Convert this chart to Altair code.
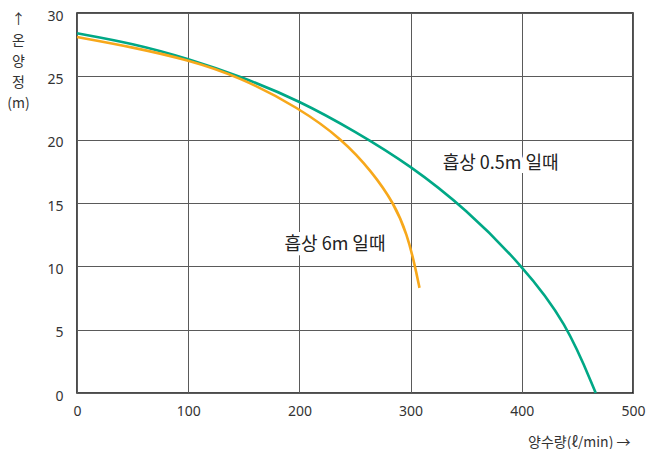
import altair as alt
import pandas as pd

# Curve: suction 0.5 m
flow_a = [0, 50, 100, 150, 200, 250, 300, 350, 400, 440, 466.5]
head_a = [28.4, 27.6, 26.4, 24.9, 23.07, 20.67, 17.95, 14.5, 10.1, 5.6, 0.0]
# Curve: suction 6 m
flow_b = [0, 50, 100, 145, 200, 239, 265, 285, 297, 304, 308]
head_b = [28.1, 27.3, 26.3, 25.0, 22.5, 20.0, 17.5, 15.0, 12.5, 10.0, 8.3]

label_text = ["흡상 0.5m 일때", "흡상 6m 일때"]
label_x = [381, 232]
label_y = [18.1, 11.65]

x_ticks = [0, 100, 200, 300, 400, 500]
y_ticks = [0, 5, 10, 15, 20, 25, 30]

FONT = "Noto Sans CJK KR"
NUM_FONT = "Noto Sans"

df = pd.concat([
    pd.DataFrame({"flow": flow_a, "head": head_a, "series": "a"}),
    pd.DataFrame({"flow": flow_b, "head": head_b, "series": "b"}),
])
lab = pd.DataFrame({"t": label_text, "x": label_x, "y": label_y})

xs = alt.Scale(domain=[0, 500], nice=False, zero=False)
ys = alt.Scale(domain=[0, 30], nice=False, zero=False)

base = alt.Chart(df)

lines = base.mark_line(strokeWidth=2.6, interpolate="basis").encode(
    x=alt.X("flow:Q", scale=xs,
            axis=alt.Axis(values=x_ticks, title="양수량(ℓ/min) →", titleAnchor="end",
                          titleAlign="right", titleX=553, titleY=42, titleFontSize=14,
                          titleFontWeight="normal", titleColor="#333",
                          labelPadding=11, ticks=False, domain=False, labelFlush=False,
                          labelFontSize=14, labelColor="#333", labelFont=NUM_FONT, titleFont=FONT,
                          grid=True, gridColor="#5a5a5a", gridWidth=1)),
    y=alt.Y("head:Q", scale=ys,
            axis=alt.Axis(values=y_ticks, title=["↑", "온", "양", "정", "(m)"], titleAngle=0,
                          titleAlign="center", titleBaseline="top", titleX=-59, titleY=-1,
                          titleLineHeight=21, titleFontSize=14, titleFontWeight="normal",
                          titleColor="#333", labelPadding=14, ticks=False, domain=False,
                          labelFlush=False, labelOffset=3,
                          labelFontSize=14, labelColor="#333", labelFont=NUM_FONT, titleFont=FONT,
                          grid=True, gridColor="#5a5a5a", gridWidth=1)),
    color=alt.Color("series:N", scale=alt.Scale(domain=["a", "b"], range=["#00a886", "#f7a81b"]),
                    legend=None),
    order=alt.Order("flow:Q"),
)

halo = alt.Chart(lab).mark_text(font=FONT, fontSize=18, stroke="white", strokeWidth=8,
                                color="white").encode(
    x=alt.X("x:Q", scale=xs), y=alt.Y("y:Q", scale=ys), text="t:N")
texts = alt.Chart(lab).mark_text(font=FONT, fontSize=18, color="#222").encode(
    x=alt.X("x:Q", scale=xs), y=alt.Y("y:Q", scale=ys), text="t:N")

chart = alt.layer(lines, halo, texts).properties(
    width=556, height=380,
    autosize=alt.AutoSizeParams(type="none"),
    padding={"left": 69, "top": 5, "right": 17, "bottom": 56},
).configure_view(stroke="#111", strokeWidth=1.5)

chart.save("out.html", embed_options={"renderer": "svg", "actions": False})
